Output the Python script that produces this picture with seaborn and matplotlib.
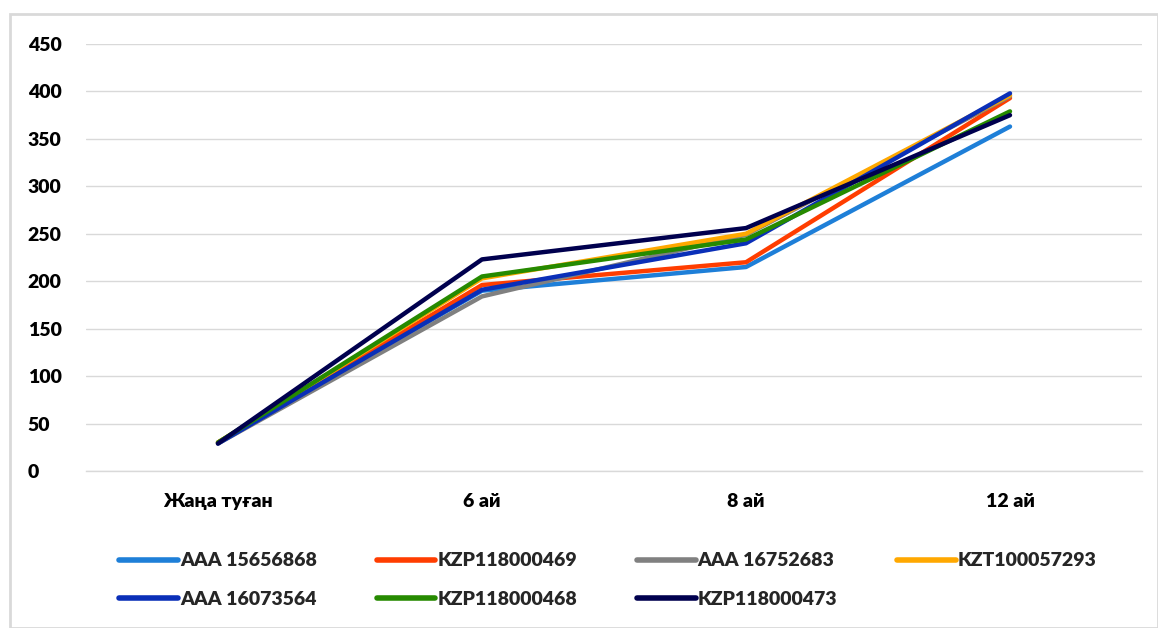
import matplotlib
matplotlib.use("Agg")
import matplotlib.pyplot as plt
import seaborn as sns
import pandas as pd
from matplotlib.patches import Rectangle

categories = ["Жаңа туған", "6 ай", "8 ай", "12 ай"]
series_names = ["AAA 15656868", "KZP118000469", "AAA 16752683", "KZT100057293",
                "AAA 16073564", "KZP118000468", "KZP118000473"]
s1 = [30, 190, 215, 363]
s2 = [30, 196, 220, 393]
s3 = [29, 184, 249, 395]
s4 = [30, 203, 250, 396]
s5 = [29, 191, 240, 398]
s6 = [30, 205, 244, 379]
s7 = [29, 223, 256, 375]
values = [s1, s2, s3, s4, s5, s6, s7]
colors = ["#1E7FD8", "#FF3D00", "#808080", "#FFA800", "#0A2FB8", "#268A00", "#00004E"]

rows = []
for name, vals in zip(series_names, values):
    for i, v in enumerate(vals):
        rows.append({"cat": i, "label": categories[i], "series": name, "value": v})
df = pd.DataFrame(rows)

sns.set_theme(style="white")
plt.rcParams['font.family'] = ['Lato', 'DejaVu Sans']

fig = plt.figure(figsize=(11.58, 6.28), dpi=100)
ax = fig.add_axes([86/1158, 1 - 471/628, (1142-86)/1158, (471-44)/628])

sns.lineplot(data=df, x="cat", y="value", hue="series", hue_order=series_names,
             palette=colors, linewidth=3.2, ax=ax, legend=True, sort=False,
             solid_capstyle="round")

ax.set_xlim(-0.5, 3.5)
ax.set_ylim(0, 450)
ax.set_yticks(range(0, 451, 50))
ax.set_xticks(range(4))
ax.set_xticklabels(categories)
for lab in ax.get_xticklabels() + ax.get_yticklabels():
    lab.set_fontweight("heavy")
    lab.set_fontsize(14)
    lab.set_color("black")
ax.tick_params(axis="x", pad=16, length=0)
ax.tick_params(axis="y", pad=42, length=0)
for t in ax.get_yticklabels():
    t.set_horizontalalignment("left")
ax.yaxis.grid(True, color="#D9D9D9", linewidth=1)
ax.set_axisbelow(True)
for sp in ["top", "right", "left"]:
    ax.spines[sp].set_visible(False)
ax.spines["bottom"].set_color("#D9D9D9")
ax.spines["bottom"].set_linewidth(1)
ax.set_xlabel("")
ax.set_ylabel("")

handles, labels = ax.get_legend_handles_labels()
ax.legend_.remove()
for h in handles:
    h.set_linewidth(4)
order = [0, 4, 1, 5, 2, 6, 3]
leg = fig.legend([handles[i] for i in order], [labels[i] for i in order],
                 loc="upper left", ncol=4,
                 bbox_to_anchor=(102/1158, 1 - 535/628), frameon=False,
                 prop={"weight": "heavy", "size": 14}, handlelength=3.0,
                 handletextpad=0.1, columnspacing=3.1, labelspacing=1.1)

fig.patches.append(Rectangle((10/1158, 0.0), (1158-10)/1158, 1 - 14/628,
                             transform=fig.transFigure, fill=False,
                             edgecolor="#D9D9D9", linewidth=2))

fig.savefig("out.png", dpi=100, facecolor="white")
